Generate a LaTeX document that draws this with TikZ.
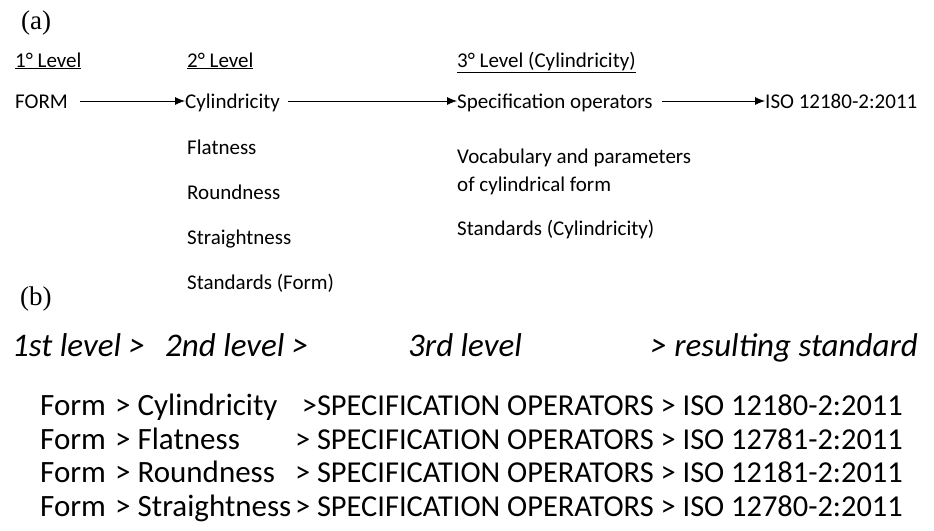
\documentclass[tikz,border=0pt]{standalone}
\usepackage{fontspec}
\setmainfont{Carlito}
\newfontfamily\serifpanel{Liberation Serif}
\usetikzlibrary{arrows.meta}
\begin{document}
\begin{tikzpicture}[x=1pt,y=-1pt,
  lbl/.style={anchor=base west,inner sep=0pt,font=\fontsize{21}{25}\selectfont},
  hdr/.style={lbl},
  panel/.style={anchor=base west,inner sep=0pt,font=\serifpanel\fontsize{27}{31}\selectfont},
  ital/.style={anchor=base west,inner sep=0pt,font=\itshape\fontsize{33}{38}\selectfont},
  row/.style={anchor=base west,inner sep=0pt,font=\fontsize{31}{35}\selectfont},
  rowe/.style={anchor=base east,inner sep=0pt,font=\fontsize{30.4}{35}\selectfont},
  arr/.style={-{Latex[length=10pt,width=8pt]},line width=0.8pt}]
\useasboundingbox (0,0) rectangle (934,530);
% panel (a)
\node[panel] (pa) at (21,29) {(a)};
\node[hdr] (h1) at (15,67) {\underline{1° Level}};
\node[hdr] (h2) at (187,67) {\underline{2° Level}};
\node[hdr] (h3) at (457,67) {\underline{3° Level (Cylindricity)}};
\node[lbl] (form) at (15,108) {FORM};
\node[lbl] (cyl) at (185,108) {Cylindricity};
\node[lbl] (spec) at (457,108) {Specification operators};
\node[lbl] (iso) at (765,108) {ISO 12180-2:2011};
\draw[arr] ([xshift=12pt,yshift=7pt]form.base east) -- ([yshift=7pt]cyl.base west);
\draw[arr] ([xshift=8pt,yshift=7pt]cyl.base east) -- ([yshift=7pt]spec.base west);
\draw[arr] ([xshift=9pt,yshift=7pt]spec.base east) -- ([yshift=7pt]iso.base west);
\node[lbl] (flat) at (187,154) {Flatness};
\node[lbl] (round) at (187,199) {Roundness};
\node[lbl] (straight) at (187,244) {Straightness};
\node[lbl] (stdf) at (187,289) {Standards (Form)};
\node[lbl] (voc1) at (457,163) {Vocabulary and parameters};
\node[lbl] (voc2) at (457,191) {of cylindrical form};
\node[lbl] (stdc) at (457,235) {Standards (Cylindricity)};
% panel (b)
\node[panel] (pb) at (20,305) {(b)};
\node[ital] (b1) at (12,356) {1st level >};
\node[ital] (b2) at (165,356) {2nd level >};
\node[ital] (b3) at (408,356) {3rd level};
\node[ital,anchor=base east] (b4) at (918,356) {> resulting standard};
\foreach \y/\sec/\third in {415/{> Cylindricity}/{>SPECIFICATION OPERATORS > ISO 12180-2:2011},
  449/{> Flatness}/{> SPECIFICATION OPERATORS > ISO 12781-2:2011},
  482/{> Roundness}/{> SPECIFICATION OPERATORS > ISO 12181-2:2011},
  516/{> Straightness}/{> SPECIFICATION OPERATORS > ISO 12780-2:2011}}{
  \node[row] (rf\y) at (40,\y) {Form};
  \node[row] (rs\y) at (115,\y) {\sec};
  \node[rowe] (rt\y) at (903,\y) {\third};
}
\end{tikzpicture}
\end{document}
